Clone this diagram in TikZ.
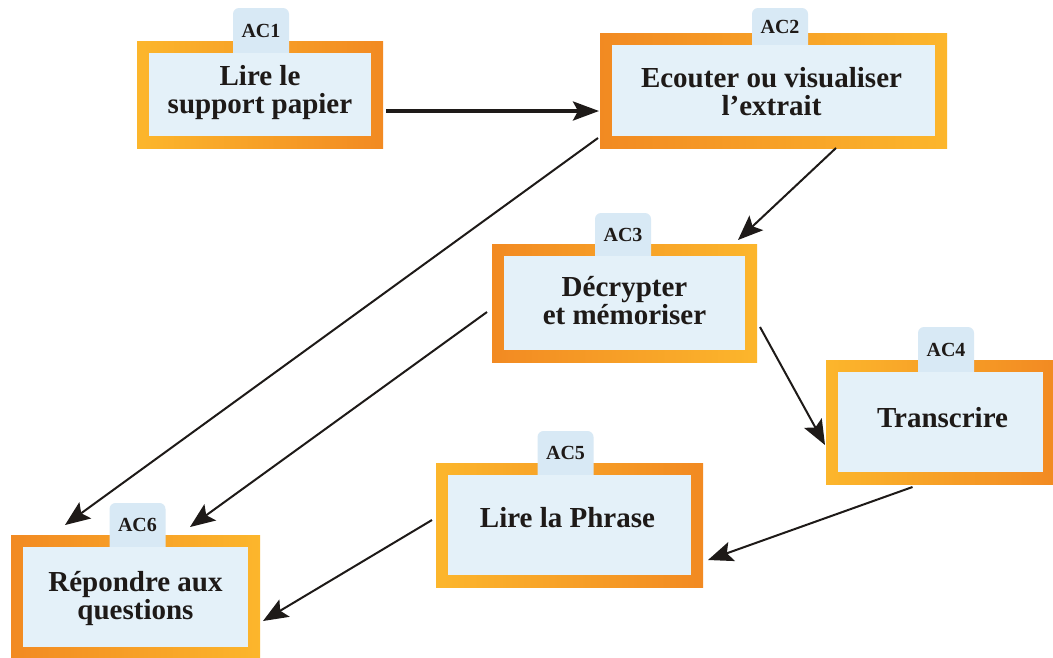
\documentclass[tikz,border=0pt]{standalone}
\usepackage{fontspec}
\setmainfont{Liberation Serif}
\usetikzlibrary{calc,arrows.meta}
\definecolor{borange}{RGB}{242,138,34}
\definecolor{byellow}{RGB}{252,182,44}
\definecolor{innerblue}{RGB}{228,241,249}
\definecolor{tabblue}{RGB}{216,233,245}
\definecolor{inkblack}{RGB}{30,26,24}
\tikzset{
  outerbox/.style={rectangle, inner sep=0pt, outer sep=0pt},
  innerbox/.style={rectangle, inner sep=0pt, outer sep=0pt, fill=innerblue},
  tabbox/.style={rectangle, rounded corners=6pt, inner sep=0pt, outer sep=0pt, fill=tabblue, minimum width=56pt},
  tablabel/.style={inner sep=0pt, text=inkblack, font=\bfseries\fontsize{20}{22}\selectfont},
  maintext/.style={inner sep=0pt, align=center, text=inkblack, font=\bfseries\fontsize{29}{28}\selectfont},
  conn/.style={draw=inkblack, line width=2pt, -{Stealth[length=25pt,width=20pt,inset=5pt]}},
  mainconn/.style={draw=inkblack, line width=3.5pt, -{Stealth[length=26pt,width=19pt,inset=5pt]}},
}
% #1 name, #2 center, #3 width, #4 height, #5 tab x offset, #6 tab height above top,
% #7 left colour, #8 right colour, #9 label
\newcommand{\acbox}[9]{%
  \node[outerbox, left color=#7, right color=#8, minimum width=#3pt, minimum height=#4pt] (#1) at (#2) {};
  \node[tabbox, anchor=north, minimum height=#6pt+20pt] (#1tab) at ($(#1.north)+(#5,-#6)$) {};
  \node[innerbox, minimum width=#3pt-24pt, minimum height=#4pt-24pt] (#1in) at (#1.center) {};
  \node[tablabel] (#1lab) at ($(#1.north)+(#5,{(12-#6)/2})$) {#9};
}
\begin{document}
\begin{tikzpicture}[x=1pt,y=-1pt]
\useasboundingbox (0,0) rectangle (1053,657);
\fill[white] (0,0) rectangle (1053,657);

\acbox{ac1}{260,94.5}{246}{107}{1}{33}{byellow}{borange}{AC1}
\node[maintext] (ac1txt) at ($(ac1.center)+(0,-2)$) {Lire le\\support papier};

\acbox{ac2}{773.5,90.5}{347}{115}{6.5}{25}{borange}{byellow}{AC2}
\node[maintext] (ac2txt) at ($(ac2.center)+(-2,1)$) {Ecouter ou visualiser\\l’extrait};

\acbox{ac3}{624.5,303}{265}{118}{-1.5}{31}{borange}{byellow}{AC3}
\node[maintext] (ac3txt) at ($(ac3.center)+(0,-2)$) {Décrypter\\et mémoriser};

\acbox{ac4}{940.5,422}{229}{124}{5.5}{33}{byellow}{borange}{AC4}
\node[maintext] (ac4txt) at ($(ac4.center)+(2,-4)$) {Transcrire};

\acbox{ac5}{569.5,525}{267}{124}{-4}{32}{byellow}{borange}{AC5}
\node[maintext] (ac5txt) at ($(ac5.center)+(-2,-7)$) {Lire la Phrase};

\acbox{ac6}{135.5,597}{249}{124}{2}{32}{borange}{byellow}{AC6}
\node[maintext] (ac6txt) at ($(ac6.center)+(0,2)$) {Répondre aux\\questions};

\draw[mainconn] ($(ac1.east)+(3,16.5)$) -- ($(ac2.west)+(-1,20.5)$);
\draw[conn] ($(ac2.south west)+(-2,-10)$) -- ($(ac6.north west)+(54,-10)$);
\draw[conn] ($(ac2.south)+(62.5,0)$) -- ($(ac3.north east)+(-19,-4)$);
\draw[conn] ($(ac3.west)+(-5,9)$) -- ($(ac6.north east)+(-70,-8)$);
\draw[conn] ($(ac3.east)+(3,24)$) -- ($(ac4.west)+(-1,23)$);
\draw[conn] ($(ac4.south)+(-28,3)$) -- ($(ac5.east)+(5,35)$);
\draw[conn] ($(ac5.west)+(-4,-5)$) -- ($(ac6.east)+(3,24)$);
\end{tikzpicture}
\end{document}
